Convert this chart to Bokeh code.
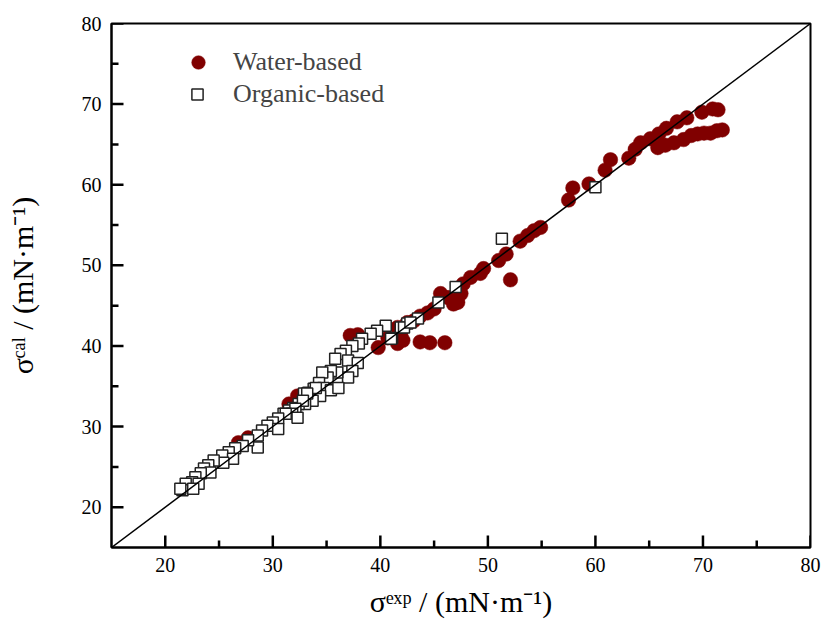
from bokeh.plotting import figure
from bokeh.models import Legend, LegendItem, FixedTicker, Range1d
from bokeh.embed import file_html
from bokeh.resources import INLINE

# Water-based data (sigma_exp, sigma_cal)
water_exp = [71.4, 70.9, 69.9, 68.5, 67.6, 66.6, 65.9, 65.1, 64.2, 63.7, 63.1,
             71.8, 71.3, 70.7, 70.1, 69.5, 68.9, 68.2, 67.3, 66.5, 65.8,
             61.4, 60.9, 59.4, 57.9, 57.5,
             54.9, 54.3, 53.7, 53.0, 51.7, 51.0, 52.1, 49.6, 49.3, 48.4, 47.7,
             47.5, 47.2, 46.8, 46.3, 45.6, 45.0, 44.4, 43.7, 43.1, 42.5, 41.6,
             40.7, 39.8, 37.9, 37.2, 41.9, 42.1, 41.6,
             43.7, 44.6, 46.0,
             26.8, 27.7, 31.5, 32.3]
water_cal = [69.3, 69.4, 69.0, 68.3, 67.8, 67.0, 66.3, 65.7, 65.2, 64.4, 63.3,
             66.8, 66.7, 66.4, 66.4, 66.3, 66.1, 65.6, 65.2, 64.9, 64.6,
             63.1, 61.8, 60.1, 59.6, 58.1,
             54.7, 54.3, 53.7, 53.0, 51.4, 50.6, 48.2, 49.6, 49.0, 48.5, 47.7,
             46.5, 45.4, 45.2, 46.0, 46.5, 44.6, 44.1, 43.7, 43.1, 42.9, 42.3,
             41.0, 39.8, 41.4, 41.3, 41.5, 40.7, 40.3,
             40.5, 40.4, 40.4,
             28.0, 28.6, 32.8, 33.8]

# Organic-based data (sigma_exp, sigma_cal)
org_exp = [43.5, 42.5, 41.9, 41.1, 41.0, 40.5, 39.7, 39.1, 38.3, 38.0, 37.4,
           36.8, 36.3, 35.8, 37.0, 37.9, 37.4, 37.0, 36.0, 35.4, 35.1, 34.6,
           34.3, 33.8, 33.3, 32.9, 34.7, 35.4, 36.1, 34.4, 33.7, 33.0, 32.4,
           31.9, 31.5, 31.0, 34.0, 33.2, 32.8, 32.1, 31.8, 32.3, 31.2, 30.5,
           30.0, 29.5, 30.5, 29.0, 28.6, 28.6, 27.7, 27.2, 26.5, 25.9, 25.3,
           26.3, 25.4, 24.5, 24.0, 23.6, 24.2, 23.3, 22.8, 22.5, 21.9, 23.1,
           21.6, 22.6, 21.4,
           42.2, 42.8, 45.4, 47.0, 51.3, 60.0]
org_cal = [43.4, 42.8, 42.3, 41.0, 40.9, 42.5, 41.9, 41.5, 40.9, 40.3, 40.0,
           39.4, 39.0, 38.4, 38.2, 37.9, 36.9, 36.1, 36.7, 36.9, 36.1, 36.7,
           35.4, 34.7, 34.2, 34.1, 34.8, 34.5, 34.8, 33.8, 33.2, 32.8, 32.8,
           32.3, 32.0, 31.6, 34.8, 34.1, 33.2, 32.2, 31.6, 31.1, 31.6, 31.0,
           30.5, 30.1, 29.7, 29.5, 28.9, 27.4, 28.3, 27.6, 27.3, 26.8, 26.4,
           26.0, 25.5, 25.8, 25.2, 24.8, 24.3, 24.2, 23.7, 23.1, 22.9, 22.9,
           22.1, 22.3, 22.3,
           42.3, 42.9, 45.4, 47.3, 53.3, 59.7]

diag = [15, 80]
major_ticks = [20, 30, 40, 50, 60, 70, 80]
minor_ticks = [25, 35, 45, 55, 65, 75]

FONT = "Liberation Serif"
X0, X1, Y0, Y1 = 15, 80, 15, 80
FRAME_W, FRAME_H = 699, 524

p = figure(width=822, height=622, output_backend="svg", toolbar_location=None,
           x_range=Range1d(X0, X1), y_range=Range1d(Y0, Y1),
           min_border_left=111, min_border_right=12, min_border_top=23,
           min_border_bottom=75)
p.grid.visible = False
p.outline_line_color = "black"
p.outline_line_width = 2
p.background_fill_color = "white"
p.border_fill_color = "white"

water = p.scatter(water_exp, water_cal, marker="circle", size=14.5,
                  fill_color="#800000", line_color="#800000", line_width=0.5)
org = p.scatter(org_exp, org_cal, marker="square", size=11,
                fill_color="white", line_color="#222222", line_width=1.5)
p.line(diag, diag, line_color="black", line_width=1.5)

# inward ticks drawn as data-space segments
dx = (X1 - X0) / FRAME_W
dy = (Y1 - Y0) / FRAME_H
tick_sets = [(major_ticks, 12), (minor_ticks, 7)]
for ticks, L in tick_sets:
    n = len(ticks)
    p.segment(x0=ticks, y0=[Y0 + 0.05] * n, x1=ticks, y1=[Y0 + L * dy] * n,
              line_color="black", line_width=2.5)
    p.segment(x0=[X0 + 0.05] * n, y0=ticks, x1=[X0 + L * dx] * n, y1=ticks,
              line_color="black", line_width=2.5)

for ax in (p.xaxis[0], p.yaxis[0]):
    ax.ticker = FixedTicker(ticks=major_ticks, minor_ticks=minor_ticks)
    ax.axis_line_width = 2
    ax.major_tick_line_color = None
    ax.minor_tick_line_color = None
    ax.major_tick_in = 0
    ax.major_tick_out = 0
    ax.minor_tick_in = 0
    ax.minor_tick_out = 0
    ax.major_label_text_font = FONT
    ax.major_label_text_font_size = "20px"
    ax.major_label_text_color = "black"
    ax.axis_label_text_font = FONT
    ax.axis_label_text_font_size = "30px"
    ax.axis_label_text_font_style = "normal"
    ax.axis_label_text_color = "black"
    ax.major_label_standoff = 10

p.xaxis.axis_label = "σᵉˣᵖ / (mN·m⁻¹)"
p.yaxis.axis_label = "σᶜᵃˡ / (mN·m⁻¹)"
p.xaxis.axis_label_standoff = 10
p.yaxis.axis_label_standoff = 40

leg1 = Legend(items=[LegendItem(label="Water-based", renderers=[water])],
              location=(70, 468), glyph_width=34, glyph_height=34,
              label_standoff=18, padding=0, margin=0, spacing=0,
              border_line_alpha=0, background_fill_alpha=0,
              label_text_font=FONT, label_text_font_size="26px")
leg2 = Legend(items=[LegendItem(label="Organic-based", renderers=[org])],
              location=(72, 438), glyph_width=28, glyph_height=28,
              label_standoff=22, padding=0, margin=0, spacing=0,
              border_line_alpha=0, background_fill_alpha=0,
              label_text_font=FONT, label_text_font_size="26px")
p.add_layout(leg1)
p.add_layout(leg2)

open("out.html", "w").write(file_html(p, INLINE))
